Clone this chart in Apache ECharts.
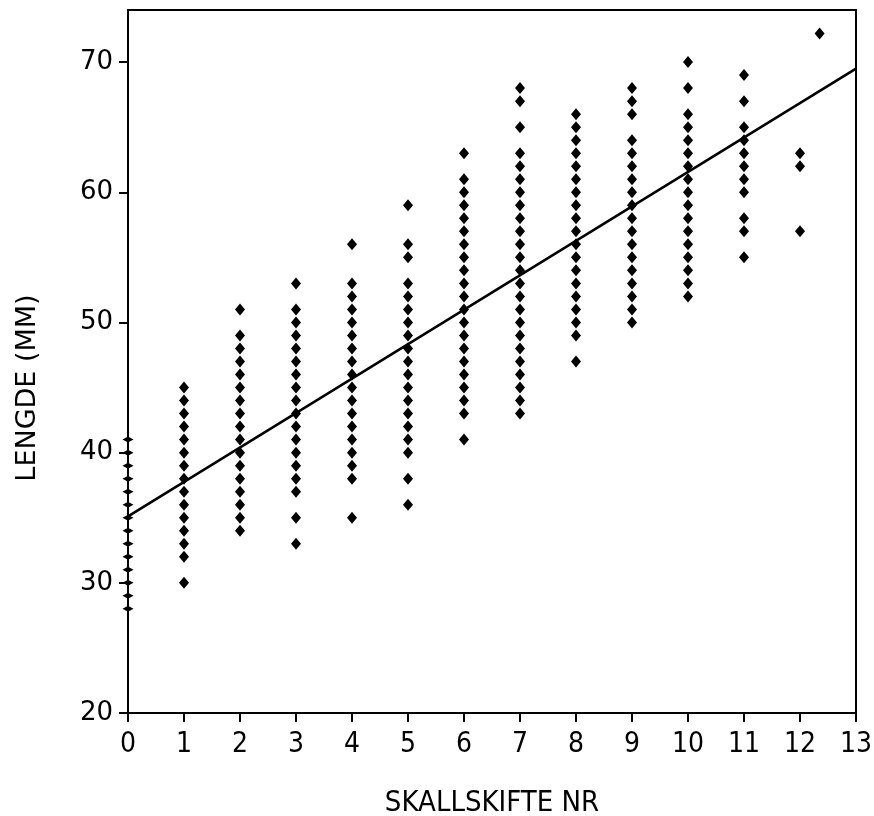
<!DOCTYPE html>
<html>
<head>
<meta charset="utf-8">
<script src="https://cdn.jsdelivr.net/npm/echarts@6/dist/echarts.min.js"></script>
<style>
  html, body { margin: 0; padding: 0; background: #fff; }
  #chart { width: 874px; height: 816px; }
</style>
</head>
<body>
<div id="chart"></div>
<script>
// --- Data: body length (mm) observed at each shell-change number ---
const shift0 = [28, 29, 30, 31, 32, 33, 34, 35, 36, 37, 38, 39, 40, 41];
const shift1 = [30, 32, 33, 34, 35, 36, 37, 38, 39, 40, 41, 42, 43, 44, 45];
const shift2 = [34, 35, 36, 37, 38, 39, 40, 41, 42, 43, 44, 45, 46, 47, 48, 49, 51];
const shift3 = [33, 35, 37, 38, 39, 40, 41, 42, 43, 44, 45, 46, 47, 48, 49, 50, 51, 53];
const shift4 = [35, 38, 39, 40, 41, 42, 43, 44, 45, 46, 47, 48, 49, 50, 51, 52, 53, 56];
const shift5 = [36, 38, 40, 41, 42, 43, 44, 45, 46, 47, 48, 49, 50, 51, 52, 53, 55, 56, 59];
const shift6 = [41, 43, 44, 45, 46, 47, 48, 49, 50, 51, 52, 53, 54, 55, 56, 57, 58, 59, 60, 61, 63];
const shift7 = [43, 44, 45, 46, 47, 48, 49, 50, 51, 52, 53, 54, 55, 56, 57, 58, 59, 60, 61, 62, 63, 65, 67, 68];
const shift8 = [47, 49, 50, 51, 52, 53, 54, 55, 56, 57, 58, 59, 60, 61, 62, 63, 64, 65, 66];
const shift9 = [50, 51, 52, 53, 54, 55, 56, 57, 58, 59, 60, 61, 62, 63, 64, 66, 67, 68];
const shift10 = [52, 53, 54, 55, 56, 57, 58, 59, 60, 61, 62, 63, 64, 65, 66, 68, 70];
const shift11 = [55, 57, 58, 60, 61, 62, 63, 64, 65, 67, 69];
const shift12 = [57, 62, 63];
const strayPoint = [12.35, 72.2];

// fitted regression line end points
const fitLine = [[0, 35.1], [13, 69.5]];

const xTicks = [0, 1, 2, 3, 4, 5, 6, 7, 8, 9, 10, 11, 12, 13];

// --- Build scatter points ---
const columns = [shift1, shift2, shift3, shift4, shift5, shift6, shift7,
                 shift8, shift9, shift10, shift11, shift12];
const dots = [];
columns.forEach((vals, i) => {
    vals.forEach(v => dots.push([i + 1, v]));
});
dots.push(strayPoint);
const axisMarks = shift0.map(v => [0, v]);

const font = 'DejaVu Sans Condensed';
const chart = echarts.init(document.getElementById('chart'), null, { renderer: 'canvas' });

chart.setOption({
    animation: false,
    backgroundColor: '#fff',
    grid: {
        left: 128, right: 18, top: 10, bottom: 103,
        outerBoundsMode: 'none', // keep the plot box exactly where it is in the scan
        show: true, borderColor: '#000', borderWidth: 2
    },
    // y-axis title placed by hand: it sits lower than the plot's middle
    graphic: [{
        type: 'text',
        x: 28, y: 388, rotation: Math.PI / 2,
        style: {
            text: 'LENGDE (MM)', fill: '#000',
            font: '27px "DejaVu Sans"', align: 'center', verticalAlign: 'middle'
        }
    }],
    xAxis: {
        type: 'value', min: 0, max: 13, interval: 1,
        name: 'SKALLSKIFTE NR', nameLocation: 'middle', nameGap: 76,
        nameTextStyle: { color: '#000', fontFamily: font, fontSize: 29 },
        axisLine: { show: true, lineStyle: { color: '#000', width: 2 } },
        axisTick: { show: true, inside: false, length: 9, lineStyle: { color: '#000', width: 2 } },
        axisLabel: {
            color: '#000', fontFamily: font, fontSize: 28, margin: 18,
            formatter: v => xTicks.includes(v) ? String(v) : ''
        },
        splitLine: { show: false }
    },
    yAxis: {
        type: 'value', min: 20, max: 74, interval: 10,
        axisLine: { show: true, lineStyle: { color: '#000', width: 2 } },
        axisTick: { show: true, inside: false, length: 9, lineStyle: { color: '#000', width: 2 } },
        axisLabel: {
            color: '#000', fontFamily: 'DejaVu Sans', fontSize: 26, margin: 15,
            showMaxLabel: false
        },
        splitLine: { show: false }
    },
    series: [
        {
            type: 'scatter',
            data: dots,
            symbol: 'diamond',
            symbolSize: [10, 12],
            itemStyle: { color: '#000', opacity: 1 },
            z: 3
        },
        {
            type: 'scatter',
            data: axisMarks,
            symbol: 'diamond',
            symbolSize: [11, 6],
            itemStyle: { color: '#000', opacity: 1 },
            clip: false,
            z: 4
        },
        {
            type: 'line',
            data: fitLine,
            showSymbol: false,
            lineStyle: { color: '#000', width: 2.5 },
            z: 2
        }
    ]
});
</script>
</body>
</html>
